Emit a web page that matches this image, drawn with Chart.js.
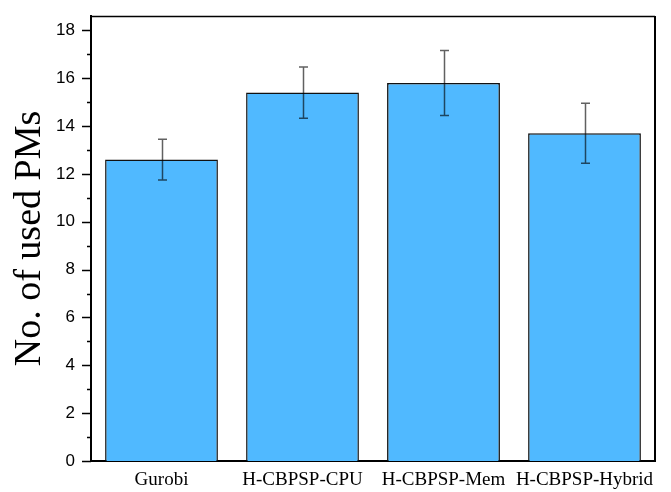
<!DOCTYPE html>
<html>
<head>
<meta charset="utf-8">
<script src="https://cdn.jsdelivr.net/npm/chart.js@4.4.1/dist/chart.umd.min.js"></script>
<style>
html,body{margin:0;padding:0;background:#fff;}
#wrap{width:671px;height:492px;}
</style>
</head>
<body>
<div id="wrap"><canvas id="c" width="671" height="492"></canvas></div>
<script>
const categories = ['Gurobi', 'H-CBPSP-CPU', 'H-CBPSP-Mem', 'H-CBPSP-Hybrid'];
const values = [12.6, 15.4, 15.8, 13.7];
const errors = [0.85, 1.07, 1.36, 1.25];
const yTickValues = [0, 2, 4, 6, 8, 10, 12, 14, 16, 18];
const yMinorValues = [1, 3, 5, 7, 9, 11, 13, 15, 17];

const decor = {
  id: 'decor',
  afterDatasetsDraw(chart) {
    const ctx = chart.ctx;
    const y = chart.scales.y;
    const meta = chart.getDatasetMeta(0);
    ctx.save();
    ctx.strokeStyle = 'rgba(0,0,0,0.62)';
    ctx.lineWidth = 1.5;
    meta.data.forEach((bar, i) => {
      const cx = Math.round(bar.x) + 0.5;
      const top = y.getPixelForValue(values[i] + errors[i]);
      const bot = y.getPixelForValue(values[i] - errors[i]);
      ctx.beginPath();
      ctx.moveTo(cx, top); ctx.lineTo(cx, bot);
      ctx.moveTo(cx - 4.5, top); ctx.lineTo(cx + 4.5, top);
      ctx.moveTo(cx - 4.5, bot); ctx.lineTo(cx + 4.5, bot);
      ctx.stroke();
    });
    const a = chart.chartArea;
    ctx.strokeStyle = '#000';
    ctx.lineWidth = 1.5;
    ctx.beginPath();
    ctx.moveTo(a.left, a.top + 0.5); ctx.lineTo(a.right, a.top + 0.5);
    ctx.stroke();
    ctx.lineWidth = 2;
    ctx.beginPath();
    ctx.moveTo(a.right, a.top); ctx.lineTo(a.right, a.bottom);
    ctx.stroke();
    ctx.lineWidth = 1.5;
    ctx.beginPath();
    yTickValues.forEach(v => {
      const py = Math.round(y.getPixelForValue(v)) + 0.5;
      ctx.moveTo(a.left - 9, py); ctx.lineTo(a.left, py);
    });
    yMinorValues.forEach(v => {
      const py = Math.round(y.getPixelForValue(v)) + 0.5;
      ctx.moveTo(a.left - 4, py); ctx.lineTo(a.left, py);
    });
    ctx.stroke();
    ctx.restore();
  }
};

new Chart(document.getElementById('c'), {
  type: 'bar',
  data: {
    labels: categories,
    datasets: [{
      data: values,
      backgroundColor: 'rgb(80,185,255)',
      borderColor: '#111',
      borderWidth: 1.5,
      barPercentage: 0.8,
      categoryPercentage: 1.0
    }]
  },
  options: {
    responsive: false,
    animation: false,
    layout: { padding: { left: 0, right: 16, top: 16, bottom: 0 } },
    plugins: { legend: { display: false }, tooltip: { enabled: false } },
    scales: {
      x: {
        grid: { display: false, drawTicks: false },
        border: { display: true, color: '#000', width: 2 },
        ticks: { color: '#000', padding: 8, font: { family: 'Liberation Serif', size: 19 }, maxRotation: 0 },
        afterFit(s) { s.height = 31; s.paddingLeft = 0; s.paddingRight = 0; }
      },
      y: {
        min: 0,
        max: 18.6,
        afterBuildTicks(s) { s.ticks = yTickValues.map(v => ({ value: v })); },
        grid: { display: false, drawTicks: false },
        border: { display: true, color: '#000', width: 2 },
        ticks: { color: '#000', padding: 16, font: { family: 'Liberation Sans', size: 17 } },
        title: { display: true, text: 'No. of used PMs', color: '#000', font: { family: 'Liberation Serif', size: 38 }, padding: { top: 7, bottom: 0 } },
        afterFit(s) { s.width = 91; s.paddingTop = 0; s.paddingBottom = 0; }
      }
    }
  },
  plugins: [decor]
});
</script>
</body>
</html>
